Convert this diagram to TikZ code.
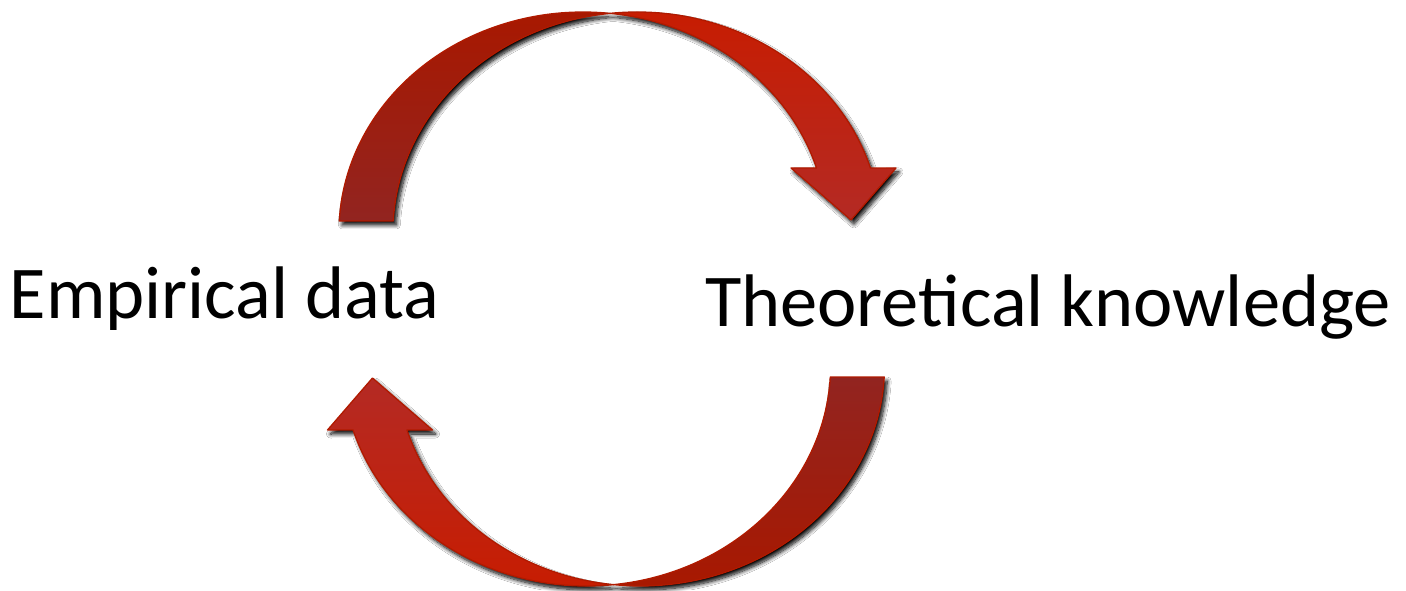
\documentclass[tikz,border=0pt]{standalone}
\usepackage{fontspec}
\newfontfamily\calib{Carlito}
\usetikzlibrary{shadows.blur}
\definecolor{backtop}{HTML}{A81800}
\definecolor{backbot}{HTML}{922420}
\definecolor{fronttop}{HTML}{C81C00}
\definecolor{frontbot}{HTML}{B42A24}
\definecolor{edgered}{HTML}{B01A00}
\tikzset{
  ell/.style={x radius=244pt, y radius=220pt},
  face/.style={draw=edgered, line width=1.3pt, line join=round},
  shad/.style={blur shadow={shadow xshift=3pt, shadow yshift=-4pt, shadow blur radius=4pt, shadow blur steps=10, shadow opacity=100}},
  lbl/.style={inner sep=0pt, anchor=base west, font=\calib\fontsize{74.5}{80}\selectfont}
}
\begin{document}
\begin{tikzpicture}[x=1pt, y=1pt]
\useasboundingbox (0,0) rectangle (1406,590);
\fill[white] (0,0) rectangle (1406,590);

% ---------- top arrow ----------
\path[shad] (339.3,369) arc[start angle=177.13, end angle=83.65, ell]
  arc[start angle=96.35, end angle=16.91, ell]
  -- (896,422) -- (851,370) -- (791,422) -- (816.5,422)
  arc[start angle=16.91, end angle=83.65, ell]
  arc[start angle=96.35, end angle=177.13, ell] -- cycle;
\path[face, top color=backtop, bottom color=backbot]
  (339.3,369) arc[start angle=177.13, end angle=83.65, ell]
  arc[start angle=96.35, end angle=177.13, ell] -- cycle;
\path[face, top color=fronttop, bottom color=frontbot]
  (610,576.65) arc[start angle=96.35, end angle=16.91, ell]
  -- (896,422) -- (851,370) -- (791,422) -- (816.5,422)
  arc[start angle=16.91, end angle=83.65, ell] -- cycle;

% ---------- bottom arrow ----------
\path[shad] (884.2,213) arc[start angle=357.13, end angle=263.65, ell]
  arc[start angle=276.35, end angle=196.91, ell]
  -- (327.5,160) -- (372.5,212) -- (432.5,160) -- (407,160)
  arc[start angle=196.91, end angle=263.65, ell]
  arc[start angle=276.35, end angle=357.13, ell] -- cycle;
\path[face, top color=backbot, bottom color=backtop]
  (884.2,213) arc[start angle=357.13, end angle=263.65, ell]
  arc[start angle=276.35, end angle=357.13, ell] -- cycle;
\path[face, top color=frontbot, bottom color=fronttop]
  (613.5,5.35) arc[start angle=276.35, end angle=196.91, ell]
  -- (327.5,160) -- (372.5,212) -- (432.5,160) -- (407,160)
  arc[start angle=196.91, end angle=263.65, ell] -- cycle;

% ---------- labels ----------
\node[lbl] (emp) at (9.5,272) {Empirical data};
\node[lbl] (theo) at (705,264) {Theoretical knowledge};
\end{tikzpicture}
\end{document}
